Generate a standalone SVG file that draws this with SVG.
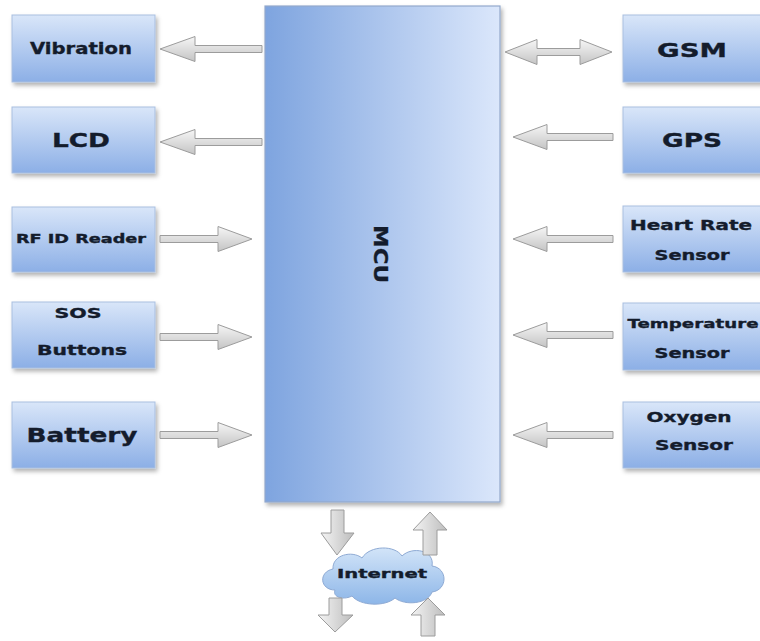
<svg xmlns="http://www.w3.org/2000/svg" width="760" height="641" viewBox="0 0 760 641">
<defs>
<linearGradient id="boxg" x1="0" y1="0" x2="0" y2="1">
<stop offset="0" stop-color="#d9e6f9"/><stop offset="1" stop-color="#8cafe6"/>
</linearGradient>
<linearGradient id="mcug" x1="0" y1="0" x2="1" y2="0">
<stop offset="0" stop-color="#7ea4df"/><stop offset="1" stop-color="#dbe7fb"/>
</linearGradient>
<linearGradient id="arrg" x1="0" y1="0" x2="0" y2="1">
<stop offset="0" stop-color="#f6f6f6"/><stop offset="1" stop-color="#c4c4c4"/>
</linearGradient>
<linearGradient id="arrv" x1="0" y1="0" x2="1" y2="0">
<stop offset="0" stop-color="#f4f4f4"/><stop offset="1" stop-color="#bdbdbd"/>
</linearGradient>
<linearGradient id="cloudg" x1="0" y1="0" x2="0" y2="1">
<stop offset="0" stop-color="#d2e4f8"/><stop offset="1" stop-color="#8db6e8"/>
</linearGradient>
<filter id="sh" x="-10%" y="-10%" width="130%" height="140%">
<feDropShadow dx="2" dy="3" stdDeviation="2" flood-color="#000" flood-opacity="0.3"/>
</filter>
</defs>
<style>
.box{fill:url(#boxg);stroke:#a9bfe0;stroke-width:1;filter:url(#sh)}
.mcu{fill:url(#mcug);stroke:#93a9cc;stroke-width:1.2;filter:url(#sh)}
.t{font-family:"DejaVu Sans","Verdana",sans-serif;font-weight:bold;fill:#141c2c;stroke:#141c2c;stroke-width:0.35;text-anchor:middle}
.a{fill:url(#arrg);stroke:#9c9c9c;stroke-width:1;stroke-linejoin:round}
.av{fill:url(#arrv);stroke:#9c9c9c;stroke-width:1;stroke-linejoin:round}
.cloud{fill:url(#cloudg);stroke:#8eaad4;stroke-width:1}
</style>
<rect width="760" height="641" fill="#ffffff"/>

<g id="mcu">
<rect class="mcu" x="265" y="6" width="235" height="496"/>
<text class="t" transform="translate(374,254) rotate(90)" font-size="20" textLength="58" lengthAdjust="spacingAndGlyphs">MCU</text>
</g>

<g id="vibration">
<rect class="box" x="12" y="15" width="143" height="67"/>
<text class="t" x="81" y="54" font-size="15" textLength="102" lengthAdjust="spacingAndGlyphs">Vibration</text>
</g>
<g id="lcd">
<rect class="box" x="12" y="107" width="143" height="66"/>
<text class="t" x="81" y="147" font-size="20" textLength="58" lengthAdjust="spacingAndGlyphs">LCD</text>
</g>
<g id="rfid">
<rect class="box" x="12" y="207" width="143" height="65"/>
<text class="t" x="81" y="243" font-size="11.5" textLength="130" lengthAdjust="spacingAndGlyphs">RF ID Reader</text>
</g>
<g id="sos">
<rect class="box" x="12" y="302" width="143" height="66"/>
<text class="t" x="78" y="318" font-size="14" textLength="47" lengthAdjust="spacingAndGlyphs">SOS</text>
<text class="t" x="82" y="355" font-size="14" textLength="90" lengthAdjust="spacingAndGlyphs">Buttons</text>
</g>
<g id="battery">
<rect class="box" x="12" y="402" width="143" height="66"/>
<text class="t" x="82" y="442" font-size="20" textLength="111" lengthAdjust="spacingAndGlyphs">Battery</text>
</g>

<g id="gsm">
<rect class="box" x="623" y="15" width="150" height="67"/>
<text class="t" x="692" y="57" font-size="20" textLength="70" lengthAdjust="spacingAndGlyphs">GSM</text>
</g>
<g id="gps">
<rect class="box" x="623" y="107" width="150" height="66"/>
<text class="t" x="692" y="147" font-size="20" textLength="60" lengthAdjust="spacingAndGlyphs">GPS</text>
</g>
<g id="heartrate">
<rect class="box" x="623" y="206" width="150" height="66"/>
<text class="t" x="691" y="230" font-size="14" textLength="122" lengthAdjust="spacingAndGlyphs">Heart Rate</text>
<text class="t" x="692" y="260" font-size="14" textLength="75" lengthAdjust="spacingAndGlyphs">Sensor</text>
</g>
<g id="temperature">
<rect class="box" x="623" y="303" width="150" height="67"/>
<text class="t" x="693" y="328" font-size="13" textLength="131" lengthAdjust="spacingAndGlyphs">Temperature</text>
<text class="t" x="692" y="358" font-size="14" textLength="75" lengthAdjust="spacingAndGlyphs">Sensor</text>
</g>
<g id="oxygen">
<rect class="box" x="623" y="402" width="150" height="66"/>
<text class="t" x="689" y="422" font-size="14" textLength="85" lengthAdjust="spacingAndGlyphs">Oxygen</text>
<text class="t" x="694" y="450" font-size="14" textLength="78" lengthAdjust="spacingAndGlyphs">Sensor</text>
</g>

<g id="internet">
<path class="cloud" d="M335,590 C320,590 318,572 333,569 C332,555 352,550 362,558 C370,545 395,545 402,556 C412,546 435,550 432,566 C448,568 448,590 432,592 C428,604 405,606 395,598 C385,607 360,606 352,596 C345,600 332,598 335,590 Z"/>
<text class="t" x="382" y="578" font-size="12" textLength="90" lengthAdjust="spacingAndGlyphs">Internet</text>
</g>

<g id="connectors">
<path class="a" d="M160,49 L195,36.5 L195,45.5 L262,45.5 L262,52.5 L195,52.5 L195,61.5 Z"/>
<path class="a" d="M160,142 L195,129.5 L195,138.5 L262,138.5 L262,145.5 L195,145.5 L195,154.5 Z"/>
<path class="a" d="M252,239 L218,226.5 L218,235.5 L160,235.5 L160,242.5 L218,242.5 L218,251.5 Z"/>
<path class="a" d="M252,337 L218,324.5 L218,333.5 L160,333.5 L160,340.5 L218,340.5 L218,349.5 Z"/>
<path class="a" d="M252,435 L218,422.5 L218,431.5 L160,431.5 L160,438.5 L218,438.5 L218,447.5 Z"/>
<path class="a" d="M505,52 L537,39.5 L537,48.5 L580,48.5 L580,39.5 L612,52 L580,64.5 L580,55.5 L537,55.5 L537,64.5 Z"/>
<path class="a" d="M513,137 L547,124.5 L547,133.5 L613,133.5 L613,140.5 L547,140.5 L547,149.5 Z"/>
<path class="a" d="M513,239 L547,226.5 L547,235.5 L613,235.5 L613,242.5 L547,242.5 L547,251.5 Z"/>
<path class="a" d="M513,335 L547,322.5 L547,331.5 L613,331.5 L613,338.5 L547,338.5 L547,347.5 Z"/>
<path class="a" d="M513,435 L547,422.5 L547,431.5 L613,431.5 L613,438.5 L547,438.5 L547,447.5 Z"/>
<path class="av" d="M337,555 L321,533 L331,533 L331,510 L344,510 L344,533 L354,533 Z"/>
<path class="av" d="M430,512 L413,530 L423,530 L423,555 L437,555 L437,530 L447,530 Z"/>
<path class="av" d="M335,632 L318,615 L329,615 L329,598 L342,598 L342,615 L353,615 Z"/>
<path class="av" d="M428,598 L411,615 L421,615 L421,636 L435,636 L435,615 L445,615 Z"/>
</g>
</svg>
